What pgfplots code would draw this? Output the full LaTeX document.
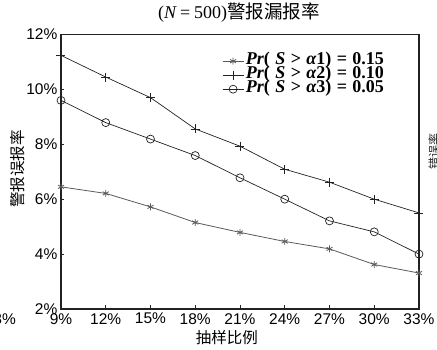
\documentclass[border=0pt]{standalone}
\usepackage{pgfplots}
\pgfplotsset{compat=1.18}
\usepackage{fontspec}
\setmainfont{Liberation Sans}
\newfontfamily\cjk{Noto Sans CJK SC}
\newfontfamily\tms{Liberation Serif}
\definecolor{dk}{HTML}{222222}
\definecolor{gy}{HTML}{5A5A5A}
\newcommand{\lgsp}{\hspace{0.3em}}
\newcommand{\legtxt}[2]{{\tms\bfseries\itshape Pr\upshape(\lgsp\itshape S\upshape\lgsp>\lgsp\itshape α\upshape#1)\lgsp=\lgsp#2}}
\begin{document}
\begin{tikzpicture}
\useasboundingbox (0,0) rectangle (437pt,350pt);
\begin{axis}[
  at={(61pt,41pt)}, anchor=south west,
  scale only axis, width=358pt, height=274.5pt,
  xmin=9, xmax=33, ymin=2, ymax=12,
  xtick={9,12,15,18,21,24,27,30,33},
  xticklabels={9\%,12\%,15\%,18\%,21\%,24\%,27\%,30\%,33\%},
  ytick={2,4,6,8,10,12},
  yticklabels={2\%,4\%,6\%,8\%,10\%,12\%},
  /pgf/number format/assume math mode=true,
  tick align=inside, xtick pos=bottom, ytick pos=left,
  major tick length=3.5pt,
  tick style={color=dk, line width=0.6pt},
  axis line style={color=dk, line width=1.1pt},
  tick label style={font=\fontsize{15.5}{15.5}\selectfont},
  yticklabel style={inner xsep=3.5pt},
  xticklabel style={inner ysep=4pt},
  title={{\tms\fontsize{18}{18}\selectfont(\itshape N\upshape\hspace{0.22em}=\hspace{0.22em}500)}{\cjk\fontsize{18.5}{18.5}\selectfont 警报漏报率}},
  title style={at={(axis description cs:0.497,1.0565)}, anchor=center, inner sep=0pt},
  xlabel={\cjk\fontsize{15.5}{15.5}\selectfont 抽样比例},
  xlabel style={at={(axis description cs:0.4635,-0.1057)}, anchor=center, inner sep=0pt},
  ylabel={\cjk\fontsize{15.5}{15.5}\selectfont 警报误报率},
  ylabel style={at={(axis description cs:-0.122,0.51)}, anchor=center, inner sep=0pt, rotate=0},
  legend cell align=left,
  legend style={draw=none, fill=none, inner sep=0pt,
    at={(axis description cs:0.4497,0.929)}, anchor=north west,
    nodes={inner ysep=0pt, inner xsep=2pt, text height=10pt, text depth=4pt},
    font=\fontsize{18}{18}\selectfont},
  legend image code/.code={
    \draw[#1] (0pt,0pt) -- (21pt,0pt);
    \draw[#1, only marks] plot coordinates {(10.5pt,0pt)};
  },
]
\addplot[color=gy, line width=0.8pt, mark=asterisk, mark size=3.5pt, mark options={line width=0.8pt}]
  coordinates {(9,6.45) (12,6.21) (15,5.72) (18,5.15) (21,4.79) (24,4.46) (27,4.19) (30,3.62) (33,3.31)};
\addlegendentry{\legtxt{1}{0.15}}
\addplot[color=dk, line width=0.7pt, mark=+, mark size=4.5pt, mark options={line width=0.7pt}]
  coordinates {(9,11.24) (12,10.45) (15,9.70) (18,8.56) (21,7.93) (24,7.09) (27,6.62) (30,6.00) (33,5.50)};
\addlegendentry{\legtxt{2}{0.10}}
\addplot[color=dk, line width=0.7pt, mark=o, mark size=4pt, mark options={line width=0.7pt}]
  coordinates {(9,9.60) (12,8.79) (15,8.19) (18,7.59) (21,6.78) (24,6.00) (27,5.21) (30,4.81) (33,4.00)};
\addlegendentry{\legtxt{3}{0.05}}
\end{axis}
\node[anchor=east, inner sep=0pt, font=\fontsize{15.5}{15.5}\selectfont] at (16pt,31pt) {8\%};
\node[rotate=90, inner sep=0pt, text=dk, font=\cjk\fontsize{12}{12}\selectfont] at (434pt,198pt) {错误率};
\end{tikzpicture}
\end{document}
